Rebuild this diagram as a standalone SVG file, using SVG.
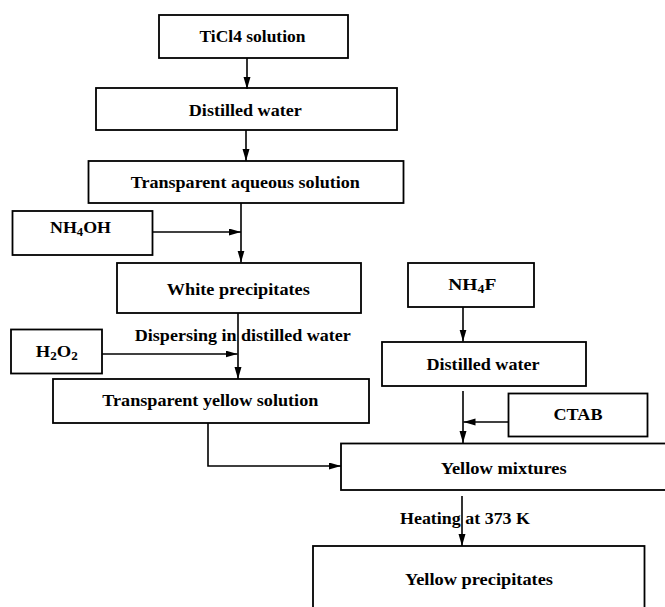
<svg xmlns="http://www.w3.org/2000/svg" width="665" height="607" viewBox="0 0 665 607">
<defs>
<style>
.box{fill:#fff;stroke:#000;stroke-width:1.8}
.t{font-family:"Liberation Serif","DejaVu Serif","Times New Roman",serif;font-weight:bold;font-size:17px;fill:#000}
.c{fill:none;stroke:#000;stroke-width:1.6}
</style>
<marker id="ah" markerUnits="userSpaceOnUse" markerWidth="13" markerHeight="8" refX="12" refY="3.5" orient="auto">
<path d="M0,0 L12,3.5 L0,7 z" fill="#000"/>
</marker>
</defs>
<rect width="665" height="607" fill="#fff"/>
<g id="n-ticl4"><rect class="box" x="159" y="15" width="189" height="43"/><text class="t" x="252.5" y="42" text-anchor="middle" textLength="106" lengthAdjust="spacingAndGlyphs">TiCl4 solution</text></g>
<g id="n-dw1"><rect class="box" x="96" y="88" width="301" height="42"/><text class="t" x="245.3" y="116" text-anchor="middle" textLength="113" lengthAdjust="spacingAndGlyphs">Distilled water</text></g>
<g id="n-tas"><rect class="box" x="88.5" y="161" width="315" height="42"/><text class="t" x="245.3" y="188" text-anchor="middle" textLength="229" lengthAdjust="spacingAndGlyphs">Transparent aqueous solution</text></g>
<g id="n-nh4oh"><rect class="box" x="12.5" y="211" width="140" height="44"/><text class="t" x="50" y="233" textLength="61" lengthAdjust="spacingAndGlyphs">NH<tspan font-size="12" dy="3">4</tspan><tspan dy="-3">OH</tspan></text></g>
<g id="n-wp"><rect class="box" x="117" y="263" width="244" height="50"/><text class="t" x="238.3" y="294.5" text-anchor="middle" textLength="143" lengthAdjust="spacingAndGlyphs">White precipitates</text></g>
<g id="n-h2o2"><rect class="box" x="11" y="329.5" width="91" height="44"/><text class="t" x="35.7" y="357" textLength="42" lengthAdjust="spacingAndGlyphs">H<tspan font-size="12" dy="3">2</tspan><tspan dy="-3">O</tspan><tspan font-size="12" dy="3">2</tspan></text></g>
<g id="n-tys"><rect class="box" x="53" y="379" width="316" height="44"/><text class="t" x="210.3" y="406" text-anchor="middle" textLength="216" lengthAdjust="spacingAndGlyphs">Transparent yellow solution</text></g>
<g id="n-nh4f"><rect class="box" x="408" y="263" width="126" height="44"/><text class="t" x="448.3" y="290" textLength="48" lengthAdjust="spacingAndGlyphs">NH<tspan font-size="12" dy="3">4</tspan><tspan dy="-3">F</tspan></text></g>
<g id="n-dw2"><rect class="box" x="382" y="342" width="204" height="44"/><text class="t" x="483" y="370" text-anchor="middle" textLength="113" lengthAdjust="spacingAndGlyphs">Distilled water</text></g>
<g id="n-ctab"><rect class="box" x="508.5" y="393.5" width="139" height="43"/><text class="t" x="578" y="420" text-anchor="middle" textLength="49" lengthAdjust="spacingAndGlyphs">CTAB</text></g>
<g id="n-ym"><rect class="box" x="341" y="443.5" width="330" height="46.5"/><text class="t" x="503.7" y="473.5" text-anchor="middle" textLength="126" lengthAdjust="spacingAndGlyphs">Yellow mixtures</text></g>
<g id="n-yp"><rect class="box" x="313" y="546" width="331.5" height="70"/><text class="t" x="479" y="585" text-anchor="middle" textLength="148" lengthAdjust="spacingAndGlyphs">Yellow precipitates</text></g>
<g id="connectors">
<path class="c" d="M247,58 V89" marker-end="url(#ah)"/>
<path class="c" d="M246,130 V161" marker-end="url(#ah)"/>
<path class="c" d="M241,203 V262.5" marker-end="url(#ah)"/>
<path class="c" d="M152.5,232 H241" marker-end="url(#ah)"/>
<path class="c" d="M238,313 V379" marker-end="url(#ah)"/>
<path class="c" d="M102,354 H237.5" marker-end="url(#ah)"/>
<path class="c" d="M208,423 V466 H341" marker-end="url(#ah)"/>
<path class="c" d="M463,307 V341.5" marker-end="url(#ah)"/>
<path class="c" d="M463,391 V443" marker-end="url(#ah)"/>
<path class="c" d="M508.5,422 H463.5" marker-end="url(#ah)"/>
<path class="c" d="M462,496 V546" marker-end="url(#ah)"/>
<text class="t" x="242.8" y="341" text-anchor="middle" textLength="216" lengthAdjust="spacingAndGlyphs">Dispersing in distilled water</text>
<text class="t" x="400" y="523.5" textLength="130" lengthAdjust="spacingAndGlyphs">Heating at 373 K</text>
</g>
</svg>
